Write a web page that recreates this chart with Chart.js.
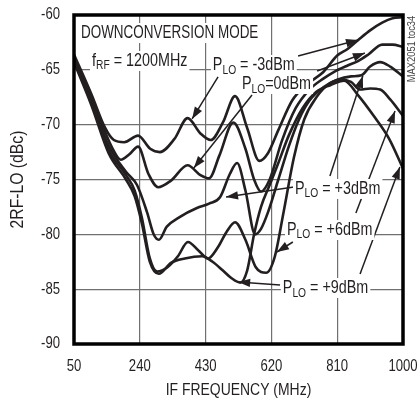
<!DOCTYPE html>
<html>
<head>
<meta charset="utf-8">
<script src="https://cdn.jsdelivr.net/npm/chart.js@4.4.1/dist/chart.umd.min.js"></script>
<style>
  html, body { margin: 0; padding: 0; background: #fff; }
</style>
</head>
<body>
<canvas id="chart" width="418" height="402"></canvas>
<script>
const freqTicks = [50, 240, 430, 620, 810, 1000];
const dbcTicks = [-90, -85, -80, -75, -70, -65, -60];

// PLO = -3dBm
const freqM3 = [50, 100, 140, 165, 195, 235, 270, 298, 340, 378, 415, 445, 480, 515, 550, 585, 610, 640, 680, 720, 770, 810, 840, 870, 905, 940, 970, 1000];
const dbcM3 = [-63.6, -67.2, -70.3, -71.4, -71.6, -71.0, -72.2, -72.5, -71.3, -69.4, -70.8, -71.4, -69.8, -67.4, -70.3, -73.3, -72.6, -70.5, -67.8, -66.4, -65.2, -63.7, -63.1, -62.3, -61.4, -60.7, -60.3, -60.2];

// PLO = 0dBm
const freq0 = [50, 100, 140, 165, 185, 210, 235, 265, 293, 330, 378, 415, 440, 470, 510, 545, 570, 590, 615, 650, 690, 730, 770, 800, 840, 870, 900, 940, 970, 1000];
const dbc0 = [-63.8, -67.4, -70.7, -72.4, -73.2, -72.7, -72.0, -74.5, -75.7, -75.1, -73.7, -74.6, -74.9, -72.8, -69.8, -72.2, -75.0, -76.1, -75.0, -71.5, -68.5, -66.8, -65.8, -65.2, -64.6, -64.2, -63.6, -62.7, -62.7, -62.9];

// PLO = +3dBm
const freqP3 = [50, 100, 150, 200, 232, 261, 280, 295, 318, 356, 405, 440, 472, 500, 521, 545, 573, 590, 610, 640, 670, 700, 730, 770, 810, 850, 880, 905, 934, 963, 1000];
const dbcP3 = [-64.0, -67.8, -71.9, -74.3, -75.5, -78.0, -80.0, -80.5, -79.3, -78.4, -77.6, -77.2, -76.6, -74.5, -73.5, -76.0, -80.0, -79.5, -78.0, -75.0, -72.0, -69.5, -67.8, -66.6, -65.9, -65.6, -65.5, -64.7, -64.3, -64.7, -65.6];

// PLO = +6dBm
const freqP6 = [50, 100, 150, 200, 225, 246, 269, 290, 320, 350, 379, 410, 437, 465, 490, 515, 545, 575, 605, 630, 655, 685, 715, 750, 790, 820, 850, 876, 905, 934, 963, 1000];
const dbcP6 = [-64.2, -68.0, -72.3, -74.6, -76.0, -78.5, -82.2, -83.4, -83.0, -82.0, -80.7, -81.5, -82.2, -81.2, -79.8, -78.9, -80.5, -83.0, -83.5, -82.0, -78.0, -73.0, -69.5, -67.5, -66.2, -65.9, -66.1, -66.8, -66.7, -66.8, -67.7, -69.2];

// PLO = +9dBm
const freqP9 = [50, 100, 150, 200, 225, 246, 269, 295, 330, 370, 420, 450, 480, 505, 530, 550, 570, 590, 615, 640, 670, 710, 750, 790, 830, 870, 920, 960, 1000];
const dbcP9 = [-64.3, -68.2, -72.6, -75.0, -76.5, -79.0, -82.5, -83.6, -82.6, -82.2, -82.0, -82.5, -83.3, -84.0, -84.4, -83.3, -80.0, -77.5, -75.5, -73.5, -71.0, -68.5, -67.0, -66.4, -66.0, -67.3, -69.4, -71.3, -74.0];

const FONT = '"Liberation Sans", Arial, sans-serif';
const INK = "#231f20";
const NARROW = 0.82; // squeeze Liberation Sans to a condensed look

const toPoints = (xs, ys) => xs.map((x, i) => ({ x: x, y: ys[i] }));

// annotation text and arrows, placed in data units (MHz, dBc)
const labels = [
  { at: [70, -62.1], parts: [["DOWNCONVERSION MODE"]], sx: 0.77 },
  { at: [102, -64.65], parts: [["f"], ["RF", 1], [" = 1200MHz"]] },
  { at: [451, -65.02], parts: [["P"], ["LO", 1], [" = -3dBm"]] },
  { at: [535, -66.75], parts: [["P"], ["LO", 1], ["=0dBm"]] },
  { at: [688, -76.32], parts: [["P"], ["LO", 1], [" = +3dBm"]] },
  { at: [665, -80.06], parts: [["P"], ["LO", 1], [" = +6dBm"]] },
  { at: [653, -85.35], parts: [["P"], ["LO", 1], [" = +9dBm"]] },
];

const arrows = [
  [466, -65.65, 391, -69.48],
  [697, -63.74, 870, -62.28],
  [564, -67.29, 396, -73.95],
  [752, -65.11, 890, -63.47],
  [685, -75.68, 489, -76.6],
  [789, -74.68, 884, -65.56],
  [682, -80.7, 636, -81.61],
  [864, -78.05, 977, -68.75],
  [645, -84.62, 524, -84.35],
  [876, -83.62, 991, -73.86],
];

function text(ctx, str, x, y, size, align, sx) {
  ctx.save();
  ctx.font = size + "px " + FONT;
  ctx.textAlign = align;
  ctx.textBaseline = "middle";
  ctx.translate(x, y);
  ctx.scale(sx || NARROW, 1);
  ctx.fillText(str, 0, 0);
  ctx.restore();
}

function drawArrow(ctx, x1, y1, x2, y2) {
  ctx.beginPath();
  ctx.moveTo(x1, y1);
  ctx.lineTo(x2, y2);
  ctx.stroke();
  const a = Math.atan2(y2 - y1, x2 - x1);
  const len = 12, w = 4.2;
  const bx = x2 - len * Math.cos(a), by = y2 - len * Math.sin(a);
  ctx.beginPath();
  ctx.moveTo(x2, y2);
  ctx.lineTo(bx + w * Math.sin(a), by - w * Math.cos(a));
  ctx.lineTo(bx - w * Math.sin(a), by + w * Math.cos(a));
  ctx.closePath();
  ctx.fill();
}

function drawLabel(ctx, x, y, parts, sx) {
  sx = sx || NARROW;
  let w = 0;
  parts.forEach(p => {
    ctx.font = (p[1] ? 12.5 : 17.5) + "px " + FONT;
    w += ctx.measureText(p[0]).width * sx;
  });
  ctx.fillStyle = "#fff";
  ctx.fillRect(x - 2, y - 15, w + 4, 20);
  ctx.fillStyle = INK;
  ctx.textBaseline = "alphabetic";
  ctx.textAlign = "left";
  let cx = x;
  parts.forEach(p => {
    ctx.font = (p[1] ? 12.5 : 17.5) + "px " + FONT;
    ctx.save();
    ctx.translate(cx, p[1] ? y + 3.5 : y);
    ctx.scale(sx, 1);
    ctx.fillText(p[0], 0, 0);
    ctx.restore();
    cx += ctx.measureText(p[0]).width * sx;
  });
}

const notes = {
  id: "notes",
  afterDraw(chart) {
    const { ctx, chartArea: area, scales: { x, y } } = chart;
    ctx.save();
    ctx.strokeStyle = INK;
    ctx.fillStyle = INK;
    ctx.lineWidth = 1.5;
    arrows.forEach(a => {
      drawArrow(ctx, x.getPixelForValue(a[0]), y.getPixelForValue(a[1]),
        x.getPixelForValue(a[2]), y.getPixelForValue(a[3]));
    });
    labels.forEach(l => {
      drawLabel(ctx, x.getPixelForValue(l.at[0]), y.getPixelForValue(l.at[1]), l.parts, l.sx);
    });

    // plot frame
    ctx.lineWidth = 3.5;
    ctx.strokeStyle = "#000";
    ctx.strokeRect(area.left, area.top, area.right - area.left, area.bottom - area.top);

    // tick labels and axis titles
    ctx.fillStyle = INK;
    freqTicks.forEach(v => text(ctx, String(v), x.getPixelForValue(v), area.bottom + 23, 16, "center"));
    dbcTicks.forEach(v => text(ctx, String(v), area.left - 14, y.getPixelForValue(v), 16, "right"));
    text(ctx, "IF FREQUENCY (MHz)", (area.left + area.right) / 2, area.bottom + 46, 17, "center");
    ctx.save();
    ctx.translate(18, (area.top + area.bottom) / 2);
    ctx.rotate(-Math.PI / 2);
    text(ctx, "2RF-LO (dBc)", 0, 0, 18.5, "center", 0.85);
    ctx.restore();

    // part number, rotated
    ctx.save();
    ctx.translate(412, 49);
    ctx.rotate(-Math.PI / 2);
    ctx.fillStyle = "#444";
    text(ctx, "MAX2051 toc34", 0, 0, 11, "center", 0.85);
    ctx.restore();
    ctx.restore();
  },
};

const series = [
  [freqM3, dbcM3], [freq0, dbc0], [freqP3, dbcP3], [freqP6, dbcP6], [freqP9, dbcP9],
];

new Chart(document.getElementById("chart"), {
  type: "line",
  data: {
    datasets: series.map(s => ({
      data: toPoints(s[0], s[1]),
      borderColor: INK,
      borderWidth: 2.6,
      pointRadius: 0,
      fill: false,
      cubicInterpolationMode: "monotone",
    })),
  },
  options: {
    responsive: false,
    animation: false,
    layout: { padding: { top: 15, right: 15, left: 0, bottom: 0 } },
    plugins: { legend: { display: false }, tooltip: { enabled: false } },
    scales: {
      x: {
        type: "linear",
        min: 50,
        max: 1000,
        afterBuildTicks: s => { s.ticks = freqTicks.map(v => ({ value: v })); },
        afterFit: s => { s.height = 58; },
        grid: { color: "#707070", lineWidth: 1.2, drawTicks: false },
        border: { display: false },
        ticks: { display: false },
      },
      y: {
        min: -90,
        max: -60,
        afterBuildTicks: s => { s.ticks = dbcTicks.map(v => ({ value: v })); },
        afterFit: s => { s.width = 74; },
        grid: { color: "#707070", lineWidth: 1.2, drawTicks: false },
        border: { display: false },
        ticks: { display: false },
      },
    },
  },
  plugins: [notes],
});
</script>
</body>
</html>
